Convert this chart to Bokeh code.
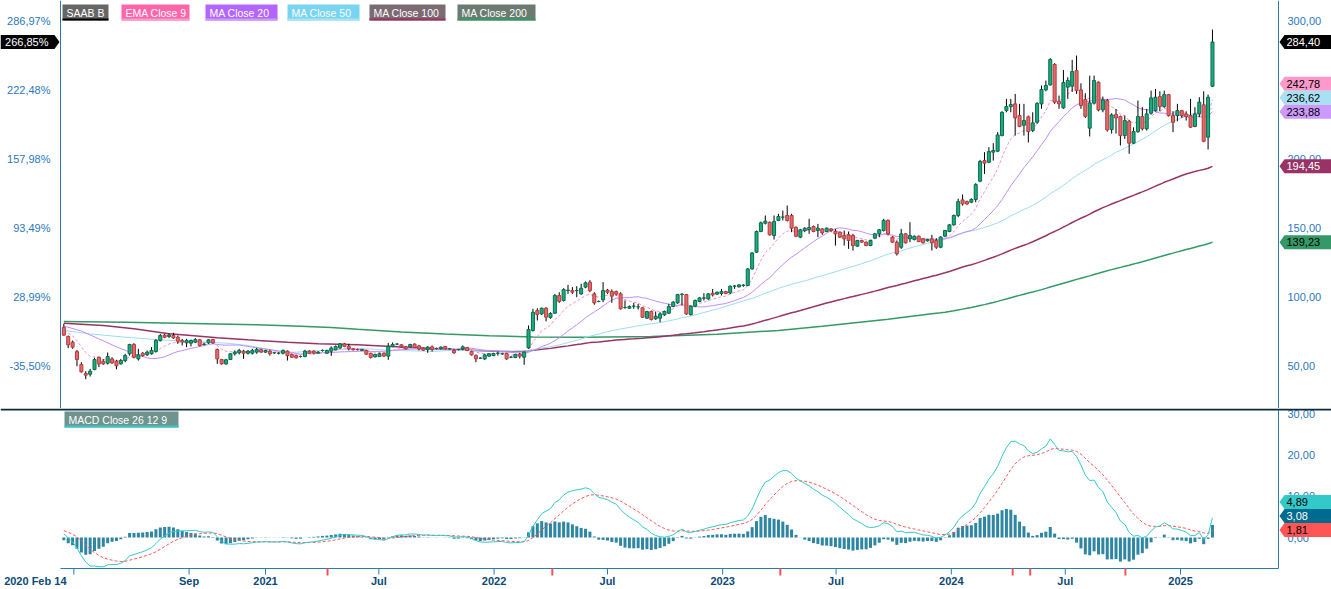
import datetime as dt
import numpy as np
from bokeh.plotting import figure
from bokeh.models import Range1d, Label, BoxAnnotation, Span
from bokeh.layouts import column
from bokeh.core.properties import value
from bokeh.embed import file_html
from bokeh.resources import INLINE

FONT = "Liberation Sans"
START = dt.datetime(2020, 2, 14)
EPOCH = dt.datetime(1970, 1, 1)
DAY_MS = 86400000.0

# ---------------- weekly OHLC of SAAB B ----------------
opens = [
    77.5, 71.0, 66.9, 60.1, 50.7, 44.2, 43.7, 47.1, 56.0, 53.1,
    51.7, 54.8, 53.1, 51.2, 53.6, 58.5, 65.2, 54.8, 58.9, 58.0,
    58.5, 60.1, 68.1, 72.0, 71.0, 71.7, 70.5, 68.1, 66.4, 66.2,
    66.9, 68.6, 65.2, 66.4, 68.8, 61.6, 54.3, 51.2, 54.3, 58.5,
    59.2, 60.4, 58.9, 58.9, 59.7, 61.4, 59.7, 60.4, 59.2, 58.9,
    58.9, 60.4, 58.0, 57.2, 56.5, 56.5, 60.4, 60.4, 58.9, 60.9,
    58.9, 60.4, 61.4, 62.8, 65.7, 63.8, 62.1, 61.6, 60.9, 60.9,
    58.9, 56.3, 56.5, 58.9, 56.8, 63.8, 65.5, 65.0, 63.5, 63.5,
    65.5, 64.2, 62.6, 61.6, 63.5, 62.3, 62.1, 63.8, 62.1, 60.9,
    61.6, 62.1, 63.0, 60.1, 57.2, 55.3, 54.8, 56.8, 57.2, 58.9,
    58.5, 58.7, 56.0, 55.8, 58.2, 56.0, 62.8, 75.4, 89.8, 87.4,
    91.5, 84.8, 87.9, 100.7, 97.1, 104.3, 104.3, 104.3, 101.9, 106.8,
    110.4, 101.9, 96.4, 97.6, 104.6, 103.6, 103.6, 101.9, 92.0, 91.5,
    93.0, 92.5, 91.8, 84.3, 89.1, 83.8, 84.3, 86.7, 87.9, 92.7,
    95.4, 101.4, 101.4, 87.0, 93.0, 96.4, 98.8, 98.3, 102.4, 101.7,
    102.2, 103.6, 102.6, 107.5, 107.0, 108.0, 108.0, 120.0, 132.1, 147.1,
    153.1, 153.8, 144.2, 155.1, 157.5, 158.7, 158.7, 150.2, 143.0, 147.8,
    148.5, 150.7, 147.8, 149.0, 147.1, 149.0, 147.3, 146.6, 144.2, 144.7,
    144.2, 136.5, 140.6, 139.4, 136.9, 142.3, 145.4, 147.8, 155.1, 143.0,
    139.4, 135.7, 145.4, 141.8, 141.3, 143.7, 141.8, 140.3, 141.8, 140.6,
    135.7, 143.7, 147.1, 151.9, 158.7, 170.0, 168.8, 168.3, 170.3, 183.6,
    198.5, 197.3, 204.6, 205.3, 216.6, 234.7, 237.6, 239.6, 231.1, 224.1,
    230.2, 220.3, 226.3, 239.6, 249.7, 253.3, 268.1, 241.3, 236.7, 251.7,
    252.4, 263.7, 249.7, 242.7, 222.0, 240.1, 255.3, 235.2, 242.0, 221.0,
    231.8, 230.4, 216.6, 227.0, 211.1, 219.5, 230.4, 221.5, 232.8, 234.7,
    244.9, 237.6, 246.3, 231.1, 231.1, 234.7, 232.3, 231.1, 223.2, 232.3,
    238.9, 215.4, 252.4,
]
highs = [
    80.2, 71.7, 68.1, 61.3, 52.4, 45.9, 47.6, 55.6, 56.5, 54.6,
    59.4, 56.0, 54.1, 54.8, 58.5, 65.7, 66.2, 62.1, 59.7, 60.9,
    63.3, 69.1, 72.9, 72.9, 73.4, 73.7, 71.7, 69.3, 69.3, 68.8,
    69.8, 69.3, 66.4, 69.1, 69.3, 62.3, 54.8, 54.8, 58.9, 60.9,
    62.1, 61.4, 61.1, 62.1, 62.8, 62.1, 61.4, 61.4, 59.9, 59.7,
    61.6, 60.9, 58.5, 57.7, 57.2, 61.4, 61.1, 60.9, 60.4, 61.6,
    61.4, 63.8, 64.5, 66.2, 66.4, 65.7, 62.6, 62.3, 62.1, 61.4,
    59.2, 58.5, 59.2, 59.4, 66.4, 66.7, 66.2, 65.5, 64.0, 65.7,
    66.0, 65.0, 63.0, 64.0, 64.5, 63.0, 63.8, 64.2, 62.6, 62.1,
    62.1, 64.5, 63.5, 60.6, 58.0, 56.0, 58.5, 58.9, 59.2, 60.1,
    59.2, 59.2, 56.8, 58.5, 59.2, 59.9, 79.0, 91.1, 91.5, 92.0,
    92.3, 88.6, 101.9, 103.1, 106.0, 108.4, 106.8, 107.5, 109.2, 110.9,
    111.8, 103.1, 97.1, 110.4, 105.5, 105.1, 104.3, 103.1, 97.1, 93.5,
    95.4, 94.7, 92.3, 89.6, 89.8, 89.1, 88.6, 89.8, 94.7, 96.6,
    101.9, 102.4, 101.9, 93.5, 97.8, 99.5, 102.4, 102.4, 105.5, 103.6,
    105.5, 104.1, 108.0, 108.4, 108.9, 108.9, 120.5, 132.1, 147.8, 154.3,
    158.7, 154.3, 158.7, 159.9, 162.3, 165.9, 159.9, 150.7, 149.0, 150.2,
    156.3, 151.4, 152.6, 149.5, 150.0, 149.5, 149.0, 147.1, 147.8, 147.1,
    145.4, 141.1, 141.1, 139.8, 141.1, 146.1, 149.0, 156.3, 155.8, 143.7,
    140.6, 149.0, 145.9, 153.8, 144.2, 144.2, 142.3, 141.8, 144.7, 142.3,
    143.7, 148.3, 152.6, 159.4, 170.8, 173.9, 169.5, 171.2, 182.1, 199.0,
    204.6, 208.2, 211.1, 219.1, 234.2, 243.2, 243.2, 246.8, 239.6, 239.6,
    231.1, 233.5, 240.8, 252.9, 256.5, 272.7, 269.1, 245.6, 264.1, 258.9,
    271.5, 274.6, 254.5, 247.3, 260.0, 260.1, 255.8, 244.9, 243.2, 232.8,
    235.9, 231.1, 231.1, 228.0, 222.6, 242.0, 237.2, 235.9, 249.2, 250.4,
    248.7, 249.2, 246.8, 234.2, 239.6, 235.2, 234.2, 243.2, 237.2, 244.4,
    248.7, 246.3, 293.4,
]
lows = [
    71.5, 62.6, 62.1, 49.5, 44.9, 40.1, 42.0, 46.6, 48.8, 50.5,
    50.7, 51.2, 47.3, 50.7, 52.4, 57.2, 55.1, 53.6, 56.5, 57.0,
    58.0, 59.4, 67.4, 69.8, 70.0, 69.3, 65.7, 64.5, 63.3, 63.8,
    66.2, 63.8, 64.5, 65.7, 65.7, 51.2, 50.7, 50.5, 54.1, 57.2,
    58.0, 54.8, 58.0, 58.0, 58.5, 59.2, 59.2, 57.2, 58.5, 58.0,
    58.0, 53.6, 55.6, 55.1, 55.8, 56.0, 58.5, 58.0, 58.5, 60.1,
    58.5, 57.0, 61.1, 62.1, 63.3, 60.9, 60.9, 60.9, 60.6, 57.7,
    55.1, 55.8, 56.3, 56.3, 54.1, 63.3, 64.7, 63.0, 61.6, 63.0,
    62.6, 60.9, 60.6, 59.2, 60.1, 61.6, 61.6, 61.6, 61.6, 58.5,
    60.9, 61.1, 60.4, 57.2, 52.4, 54.8, 53.9, 56.3, 56.8, 57.2,
    57.7, 54.1, 55.3, 55.3, 55.1, 50.5, 62.1, 74.6, 82.6, 86.7,
    81.9, 83.8, 87.4, 95.4, 96.4, 101.9, 101.9, 99.5, 101.2, 106.0,
    103.1, 94.0, 95.9, 95.9, 101.9, 95.4, 100.7, 90.6, 91.1, 91.1,
    91.1, 90.6, 84.5, 83.8, 82.6, 83.1, 81.4, 86.0, 87.4, 92.3,
    94.7, 93.5, 86.7, 86.2, 92.3, 95.9, 97.1, 97.6, 100.0, 101.2,
    100.7, 101.7, 101.7, 105.5, 106.5, 107.0, 107.5, 119.5, 131.6, 146.6,
    152.2, 144.2, 141.3, 154.6, 155.1, 154.3, 146.6, 143.0, 142.3, 146.6,
    145.4, 146.6, 143.0, 144.7, 146.6, 146.6, 136.9, 142.3, 136.9, 134.5,
    133.3, 136.0, 138.9, 136.5, 136.5, 141.8, 143.0, 147.1, 144.2, 138.9,
    129.7, 134.5, 138.4, 139.4, 140.6, 139.4, 138.4, 139.8, 133.3, 134.5,
    135.0, 143.0, 146.6, 151.4, 157.5, 165.9, 166.4, 167.6, 168.3, 182.8,
    188.8, 196.6, 198.5, 204.6, 216.1, 233.5, 233.5, 216.6, 222.7, 216.6,
    211.6, 219.1, 225.1, 236.0, 248.7, 252.9, 239.6, 236.0, 236.0, 243.2,
    248.2, 246.8, 236.0, 229.4, 216.0, 239.1, 234.2, 233.5, 219.5, 218.1,
    218.1, 209.4, 214.2, 203.4, 210.6, 218.6, 220.3, 220.3, 231.8, 234.0,
    234.2, 236.7, 230.4, 219.1, 227.0, 229.4, 227.5, 222.2, 222.7, 229.9,
    211.8, 206.5, 251.7,
]
closes = [
    72.0, 65.0, 63.3, 54.3, 45.4, 43.0, 45.9, 54.3, 51.2, 51.2,
    56.5, 51.9, 49.8, 53.6, 57.2, 65.2, 56.0, 57.7, 57.2, 59.7,
    60.9, 68.1, 71.7, 70.5, 72.0, 70.0, 67.6, 67.1, 68.1, 68.1,
    68.8, 64.5, 65.5, 68.6, 66.4, 54.8, 51.2, 54.1, 58.5, 59.7,
    60.9, 58.9, 60.4, 60.9, 61.6, 59.7, 60.9, 58.5, 59.2, 58.9,
    60.9, 57.2, 56.0, 55.6, 56.5, 60.4, 58.9, 58.9, 59.7, 60.9,
    60.9, 62.6, 63.8, 65.7, 63.8, 62.1, 61.4, 61.4, 61.6, 58.2,
    55.8, 58.0, 58.5, 56.8, 64.0, 65.2, 65.5, 63.5, 62.1, 65.2,
    63.0, 62.1, 61.1, 63.3, 61.6, 62.3, 63.3, 62.1, 62.1, 59.2,
    61.6, 63.5, 60.9, 57.7, 54.8, 55.3, 57.7, 58.5, 58.7, 58.9,
    58.5, 54.8, 56.0, 58.0, 56.8, 59.7, 76.1, 88.6, 87.0, 91.5,
    85.0, 87.7, 100.7, 96.4, 105.1, 104.6, 103.1, 104.3, 106.0, 109.9,
    104.3, 95.4, 96.4, 104.3, 103.1, 100.2, 101.7, 91.1, 92.0, 92.7,
    93.0, 92.5, 85.0, 89.1, 83.3, 85.7, 87.4, 89.1, 92.7, 95.9,
    101.4, 101.7, 87.4, 93.0, 97.1, 99.0, 99.0, 101.9, 101.2, 103.1,
    103.6, 102.2, 107.5, 107.5, 108.4, 108.2, 120.0, 131.6, 147.1, 153.4,
    154.6, 144.7, 154.3, 158.0, 157.5, 155.1, 149.5, 143.7, 148.3, 149.5,
    150.0, 147.1, 149.5, 146.1, 149.5, 147.8, 145.4, 143.0, 141.8, 140.6,
    136.9, 140.6, 139.4, 136.9, 140.6, 145.4, 148.3, 155.1, 145.4, 139.4,
    130.9, 145.4, 138.9, 144.2, 143.7, 139.8, 138.9, 141.3, 138.9, 135.7,
    143.0, 147.8, 151.9, 158.7, 168.8, 167.1, 167.1, 170.3, 181.1, 197.8,
    196.6, 205.0, 205.8, 217.1, 233.5, 237.6, 239.1, 229.4, 223.2, 227.5,
    219.5, 225.8, 239.8, 250.0, 252.9, 271.7, 240.8, 239.6, 255.0, 256.5,
    263.0, 249.2, 238.4, 230.6, 240.3, 256.5, 235.2, 242.5, 220.7, 231.6,
    229.4, 216.6, 227.5, 211.1, 219.5, 230.4, 221.5, 232.3, 243.9, 244.4,
    237.6, 246.3, 231.1, 226.3, 234.7, 231.1, 230.4, 222.7, 232.3, 240.8,
    212.5, 244.4, 284.4,
]

# percent scale base (left axis) and indicator start values
base_price = 77.525
ema9_seed = 76.5
ema12_seed, ema26_seed, signal_seed = 78.6, 77.0, 1.8

# moving averages before enough weeks exist inside the window
ma20_early_weeks = [0, 4, 8, 12, 16]
ma20_early_vals = [78.6, 75.0, 69.3, 63.5, 58.5]
ma50_early_weeks = [0, 6, 14, 22, 28, 33, 37, 42, 46]
ma50_early_vals = [75.4, 72.9, 70.5, 68.6, 67.6, 66.9, 66.2, 64.5, 62.1]
ma100_early_weeks = [0, 9, 16, 24, 29, 35, 42, 51, 58, 67, 78, 89, 98]
ma100_early_vals = [80.6, 79.0, 76.6, 73.0, 71.7, 70.1, 68.6, 66.9, 65.7, 65.0, 63.3, 61.6, 60.4]
ma200_early_weeks = [0, 14, 29, 44, 54, 61, 67, 77, 87, 97, 107, 119, 134, 149, 163, 173, 188, 198]
ma200_early_vals = [81.9, 81.3, 80.5, 79.5, 78.5, 77.6, 76.2, 74.3, 72.8, 71.6, 70.6, 70.5,
                    71.0, 72.6, 75.4, 78.5, 83.5, 87.5]

# last values shown in the price tags
tag_values = [284.40, 242.78, 236.62, 233.88, 194.45, 139.23]
macd_tag_values = [4.89, 3.08, 1.81]

# axes
price_ticks = [50, 100, 150, 200, 300]
pct_ticks = [50, 100, 150, 200, 250, 300]
macd_ticks = [0, 10, 20, 30]
date_ticks = ["2020-03-01", "2020-09-01", "2021-01-01", "2021-07-01", "2022-01-01", "2022-07-01",
              "2023-01-01", "2023-07-01", "2024-01-01", "2024-07-01", "2025-01-01"]
date_tick_labels = ["", "Sep", "2021", "Jul", "2022", "Jul", "2023", "Jul", "2024", "Jul", "2025"]
first_date_label = "2020 Feb 14"
event_dates = ["2021-04-10", "2022-04-04", "2023-04-03", "2024-04-08", "2024-05-06", "2024-10-05"]

legend_names = ["SAAB B", "EMA Close 9", "MA Close 20", "MA Close 50", "MA Close 100", "MA Close 200"]
macd_legend = "MACD Close 26 12 9"

# ---------------- styles ----------------
C_UP, C_UP_LINE = "#19ad80", "#0b6a4c"
C_DN, C_DN_LINE = "#e36b6b", "#b23c3c"
C_EMA9, C_MA20, C_MA50, C_MA100, C_MA200 = "#ff8fc4", "#c08cff", "#9ddcef", "#993366", "#339966"
C_MACD, C_SIG, C_HIST = "#33c9c9", "#ff5555", "#2e86a3"
AX_COL = "#2a7ab0"
LBL_COL = "#2b78bd"
DATE_COL = "#0d4a78"
SEP_COL = "#0b2b3b"

# pixel geometry of the page (canvas coordinates)
W_PAGE, H_MAIN, H_MACD = 1331, 408, 181
AX_L, AX_R = 60, 1278
PX_PER_DAY = 0.6263
ANCHOR_PX = 265.0


def ms(d):
    if isinstance(d, str):
        d = dt.datetime.strptime(d, "%Y-%m-%d")
    return (d - EPOCH).total_seconds() * 1000.0


ANCHOR_MS = ms("2021-01-01")


def X(px):           # canvas x pixel -> time (ms)
    return ANCHOR_MS + (px - ANCHOR_PX) / PX_PER_DAY * DAY_MS


def PY(py):          # main-panel canvas y pixel -> price
    return 50 + (365 - py) * 50.0 / 69.0


def MY(py):          # page y pixel (MACD panel) -> MACD value
    return (537 - py) / 4.13


def sma(vals, n):
    v = np.asarray(vals, dtype=float)
    return [float(v[i - n + 1:i + 1].mean()) for i in range(n - 1, len(v))]


def ema(vals, n, seed):
    k = 2.0 / (n + 1)
    out, e = [], seed
    for v in vals:
        e = e + k * (v - e)
        out.append(e)
    return np.array(out)


def comma(v, nd=2):
    return f"{v:.{nd}f}".replace(".", ",")


N = len(closes)
x = np.array([ms(START + dt.timedelta(weeks=i)) for i in range(N)])
o = np.array(opens); h = np.array(highs); l = np.array(lows); c = np.array(closes)

ema9 = ema(c, 9, ema9_seed)


def ma_line(n, early_w, early_v):
    xs = [x[w] for w in early_w] + list(x[n - 1:])
    ys = list(early_v) + sma(c, n)
    return xs, ys


ma20 = ma_line(20, ma20_early_weeks, ma20_early_vals)
ma50 = ma_line(50, ma50_early_weeks, ma50_early_vals)
ma100 = ma_line(100, ma100_early_weeks, ma100_early_vals)
ma200 = ma_line(200, ma200_early_weeks, ma200_early_vals)

ema12 = ema(c, 12, ema12_seed)
ema26 = ema(c, 26, ema26_seed)
macd = ema12 - ema26
signal = ema(macd, 9, signal_seed)
hist = macd - signal

BAR_W = 4.8 * DAY_MS
xr = Range1d(X(0), X(W_PAGE))

TXT = dict(text_font=value(FONT), text_font_size=value("11px"))


def stack(values, gap):
    order = np.argsort(values)
    pos = [0.0] * len(values)
    prev = -1e9
    for k in order:
        yv = max(values[k], prev + gap)
        pos[k] = yv
        prev = yv
    return pos


def right_tags(fig, vals, ypos, half, bgs, fgs):
    xs, ys = [], []
    for yc in ypos:
        xs.append([X(AX_R + 1), X(AX_R + 6), X(W_PAGE), X(W_PAGE), X(AX_R + 6)])
        ys.append([yc, yc + half, yc + half, yc - half, yc - half])
    fig.patches(xs=xs, ys=ys, fill_color=bgs, line_color=None)
    fig.text(x=[X(AX_R + 8)] * len(vals), y=ypos, text=[comma(v) for v in vals],
             text_color=fgs, text_align="left", text_baseline="middle", **TXT)


def legend_box(fig, fh, left, right, top, name, bg, ul):
    fig.add_layout(BoxAnnotation(left=left, right=right, top=fh - top, bottom=fh - top - 16,
                                 left_units="screen", right_units="screen",
                                 top_units="screen", bottom_units="screen",
                                 fill_color=bg, fill_alpha=1.0, line_alpha=0))
    fig.add_layout(BoxAnnotation(left=left, right=right, top=fh - top - 14, bottom=fh - top - 16,
                                 left_units="screen", right_units="screen",
                                 top_units="screen", bottom_units="screen",
                                 fill_color=ul, fill_alpha=1.0, line_alpha=0))
    fig.add_layout(Label(x=left + 4, y=fh - top - 8, x_units="screen", y_units="screen", text=name,
                         text_color="white", text_font=FONT, text_font_size="10.5px",
                         text_baseline="middle", text_align="left"))


# ---------------- main price panel ----------------
p = figure(width=W_PAGE, height=H_MAIN, x_range=xr, y_range=Range1d(PY(H_MAIN), PY(0)),
           x_axis_location=None, y_axis_location=None,
           output_backend="svg", toolbar_location=None,
           min_border_left=0, min_border_right=0, min_border_top=0, min_border_bottom=0)
p.outline_line_color = None
p.grid.visible = False
p.background_fill_color = "white"
p.border_fill_color = "white"

# axis lines and tick labels
p.add_layout(Span(location=X(AX_L), dimension="height", line_color=AX_COL, line_width=1))
p.add_layout(Span(location=X(AX_R), dimension="height", line_color=AX_COL, line_width=1))
p.text(x=[X(AX_L - 10)] * len(pct_ticks), y=pct_ticks,
       text=[comma((t / base_price - 1) * 100) + "%" for t in pct_ticks],
       text_color=LBL_COL, text_align="right", text_baseline="middle", **TXT)
p.text(x=[X(AX_R + 9)] * len(price_ticks), y=price_ticks, text=[comma(t) for t in price_ticks],
       text_color=LBL_COL, text_align="left", text_baseline="middle", **TXT)

# MA lines (behind candles)
p.line(ma200[0], ma200[1], line_color=C_MA200, line_width=1.5)
p.line(ma100[0], ma100[1], line_color=C_MA100, line_width=1.5)
p.line(ma50[0], ma50[1], line_color=C_MA50, line_width=1)
p.line(ma20[0], ma20[1], line_color=C_MA20, line_width=1)
p.line(x, ema9, line_color=C_EMA9, line_width=1, line_dash="3 2")

# candles
inc = c >= o
p.segment(x0=x, y0=l, x1=x, y1=h, line_color="black", line_width=1)
p.vbar(x=x[inc], top=c[inc], bottom=o[inc], width=BAR_W, fill_color=C_UP, line_color=C_UP_LINE)
p.vbar(x=x[~inc], top=o[~inc], bottom=c[~inc], width=BAR_W, fill_color=C_DN, line_color=C_DN_LINE)

# legend
leg_x = [(62, 108), (121, 189), (205, 277), (287, 359), (369, 445), (457, 535)]
leg_bg = ["#666666", "#ff66aa", "#b266ff", "#78d4f0", "#7b6a72", "#6b7b72"]
leg_ul = ["#000000", "#ff99cc", "#cc99ff", "#a6e3f5", C_MA100, C_MA200]
for name, (a, b), bg, ul in zip(legend_names, leg_x, leg_bg, leg_ul):
    legend_box(p, H_MAIN, a, b, 4, name, bg, ul)

# price tags
half_main = 7 * 50.0 / 69.0
tag_pos = stack(tag_values, 2 * half_main)
right_tags(p, tag_values, tag_pos, half_main,
           ["#000000", "#ff99cc", "#a8e2f2", "#cc99ff", C_MA100, C_MA200],
           ["white", "black", "black", "black", "white", "black"])
yc = tag_values[0]
p.patch(x=[X(0), X(AX_L - 6), X(AX_L - 1), X(AX_L - 6), X(0)],
        y=[yc + half_main, yc + half_main, yc, yc - half_main, yc - half_main],
        fill_color="black", line_color=None)
p.text(x=[X(AX_L - 12)], y=[yc], text=[comma((c[-1] / base_price - 1) * 100) + "%"],
       text_color="white", text_align="right", text_baseline="middle", **TXT)

# ---------------- MACD panel ----------------
TOP = H_MAIN
q = figure(width=W_PAGE, height=H_MACD, x_range=xr, y_range=Range1d(MY(TOP + H_MACD), MY(TOP)),
           x_axis_location=None, y_axis_location=None,
           output_backend="svg", toolbar_location=None,
           min_border_left=0, min_border_right=0, min_border_top=0, min_border_bottom=0)
q.outline_line_color = None
q.grid.visible = False
q.background_fill_color = "white"
q.border_fill_color = "white"

q.add_layout(Span(location=MY(409), dimension="width", line_color=SEP_COL, line_width=2))
q.segment(x0=[X(AX_R)], y0=[MY(410)], x1=[X(AX_R)], y1=[MY(568)], line_color=AX_COL, line_width=1)
q.segment(x0=[X(AX_L)], y0=[MY(568)], x1=[X(AX_R)], y1=[MY(568)], line_color=AX_COL, line_width=1)

tick_x = [ms(d) for d in date_ticks]
q.segment(x0=tick_x, y0=[MY(568)] * len(tick_x), x1=tick_x, y1=[MY(574)] * len(tick_x),
          line_color=AX_COL, line_width=1)
ev_x = [ms(d) for d in event_dates]
q.segment(x0=ev_x, y0=[MY(568)] * len(ev_x), x1=ev_x, y1=[MY(575)] * len(ev_x),
          line_color="#ff5050", line_width=2)

lbl_x = [t for t, s in zip(tick_x, date_tick_labels) if s]
lbl_t = [s for s in date_tick_labels if s]
q.text(x=lbl_x, y=[MY(580)] * len(lbl_t), text=lbl_t, text_color=DATE_COL, text_align="center",
       text_baseline="middle", text_font_style=value("bold"), **TXT)
q.text(x=[X(66)], y=[MY(580)], text=[first_date_label], text_color=DATE_COL, text_align="right",
       text_baseline="middle", text_font_style=value("bold"), **TXT)

q.text(x=[X(AX_R + 9)] * len(macd_ticks), y=macd_ticks, text=[comma(t) for t in macd_ticks],
       text_color=LBL_COL, text_align="left", text_baseline="middle", **TXT)

q.vbar(x=x, top=hist, bottom=0, width=BAR_W, fill_color=C_HIST, line_color=None)
q.line(x, signal, line_color=C_SIG, line_width=1, line_dash="3 2")
q.line(x, macd, line_color=C_MACD, line_width=1)

legend_box(q, H_MACD, 64, 178, 3, macd_legend, "#6f938d", C_MACD)

half_macd = 7 / 4.13
right_tags(q, macd_tag_values, stack(macd_tag_values, 2 * half_macd), half_macd,
           [C_MACD, "#006b8f", C_SIG], ["black", "white", "black"])

layout = column(p, q, spacing=0)
open("out.html", "w").write(file_html(layout, INLINE))
